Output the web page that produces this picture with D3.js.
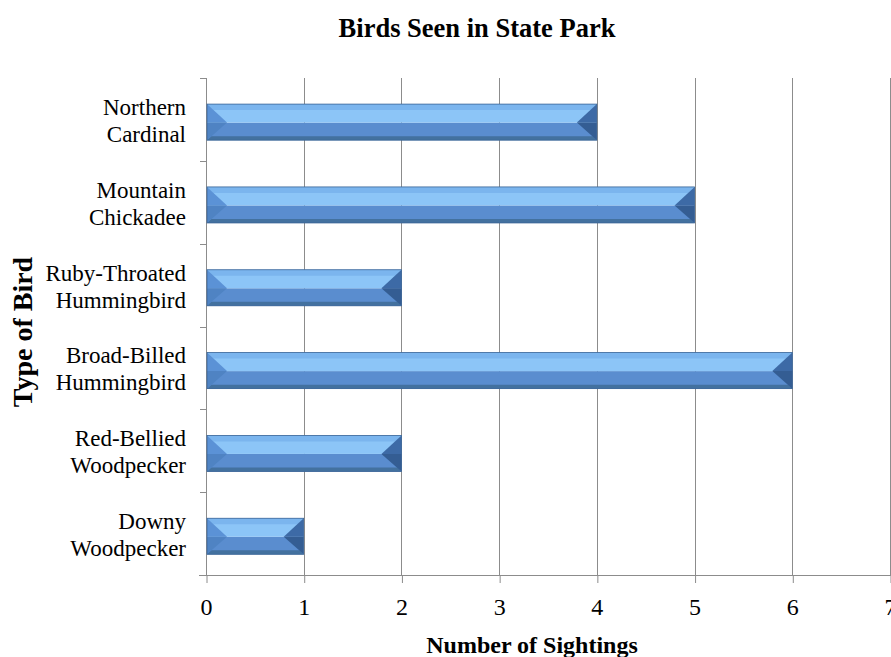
<!DOCTYPE html>
<html><head><meta charset="utf-8">
<script src="https://cdn.jsdelivr.net/npm/d3@7"></script>
<style>body{margin:0;background:#fff}svg{display:block}</style>
</head><body>
<svg id="c" width="891" height="657"></svg>
<script>
const categories = [["Northern","Cardinal"],["Mountain","Chickadee"],["Ruby-Throated","Hummingbird"],["Broad-Billed","Hummingbird"],["Red-Bellied","Woodpecker"],["Downy","Woodpecker"]];
const values = [4,5,2,6,2,1];
const xTicks = [0,1,2,3,4,5,6,7];
const title = "Birds Seen in State Park";
const xTitle = "Number of Sightings";
const yTitle = "Type of Bird";

const FF = "'Liberation Serif','Times New Roman',serif";
const svg = d3.select("#c");
const m = {l:206, r:890, t:78, b:575};
const x = d3.scaleLinear().domain([0,7]).range([m.l, m.r]);
const keys = categories.map(d=>d.join(" "));
const y = d3.scaleBand().domain(keys).range([m.t, m.b]).padding(0);
const band = y.bandwidth();
const barOff = 0.315*band, barH = 0.435*band;

// gridlines
svg.append("g").selectAll("line").data(xTicks.slice(1)).join("line")
  .attr("x1",d=>Math.round(x(d))+0.5).attr("x2",d=>Math.round(x(d))+0.5).attr("y1",m.t).attr("y2",m.b)
  .attr("stroke","#8c8c8c").attr("stroke-width",1);

// x axis
const gx = svg.append("g").attr("transform",`translate(0,${m.b})`)
  .call(d3.axisBottom(x).tickValues(xTicks).tickSize(8).tickPadding(15).tickFormat(d3.format("d")));
gx.select(".domain").remove();
gx.append("line").attr("x1",199).attr("x2",891).attr("y1",0.5).attr("y2",0.5).attr("stroke","#8c8c8c");
gx.selectAll(".tick line").attr("stroke","#8c8c8c").attr("transform","translate(0.5,0)");
gx.selectAll(".tick text").style("font-size","24px").style("font-family",FF).attr("fill","#000");

// y axis
svg.append("line").attr("x1",m.l+0.5).attr("x2",m.l+0.5).attr("y1",m.t).attr("y2",m.b).attr("stroke","#8c8c8c");
svg.append("g").selectAll("line").data(keys.map(k=>y(k)).concat([m.b])).join("line")
  .attr("x1",200).attr("x2",m.l).attr("y1",d=>Math.round(d)+0.5).attr("y2",d=>Math.round(d)+0.5)
  .attr("stroke","#8c8c8c");

// bars with bevel
const poly = pts => pts.map(p=>p.join(",")).join(" ");
svg.append("g").selectAll("g").data(values).join("g").each(function(v,i){
  const gg = d3.select(this);
  const x0 = x(0)+1, x1 = x(v), y0 = y(keys[i])+barOff, y1 = y0+barH;
  const ym = (y0+y1)/2 + 0.5;
  const bw = Math.min(20, (x1-x0)/2 - 2), bh = 6;
  gg.append("rect").attr("x",x0).attr("y",ym).attr("width",x1-x0).attr("height",y1-ym).attr("fill","#5a8dcf");
  gg.append("rect").attr("x",x0).attr("y",y0).attr("width",x1-x0).attr("height",ym-y0).attr("fill","#8cc5f7");
  gg.append("polygon").attr("points",poly([[x0,y0],[x1,y0],[x1-bw*0.3,y0+bh],[x0+bw*0.3,y0+bh]])).attr("fill","#7bb5ee");
  gg.append("polygon").attr("points",poly([[x0,y1],[x1,y1],[x1-bw*0.2,y1-4],[x0+bw*0.2,y1-4]])).attr("fill","#43719f");
  gg.append("polygon").attr("points",poly([[x0,y0],[x0+bw,ym],[x0,ym]])).attr("fill","#5b92d6");
  gg.append("polygon").attr("points",poly([[x0,ym],[x0+bw,ym],[x0,y1]])).attr("fill","#4f83c3");
  gg.append("polygon").attr("points",poly([[x1,y0],[x1-bw,ym],[x1,ym]])).attr("fill","#3d6aa6");
  gg.append("polygon").attr("points",poly([[x1,ym],[x1-bw,ym],[x1,y1]])).attr("fill","#345d93");
  gg.append("rect").attr("x",x0).attr("y",y0).attr("width",x1-x0).attr("height",y1-y0).attr("fill","none").attr("stroke","#3c6597").attr("stroke-width",0.8);
});

// category labels
const lab = svg.append("g").selectAll("text").data(categories).join("text")
  .attr("text-anchor","end").style("font-size","23px").style("font-family",FF).attr("fill","#000")
  .attr("transform",(d,i)=>`translate(186,${y(keys[i])+band/2})`);
lab.append("tspan").attr("x",0).attr("y",-4.5).text(d=>d[0]);
lab.append("tspan").attr("x",0).attr("y",22.5).text(d=>d[1]);

// titles
svg.append("text").attr("x",477).attr("y",37).attr("text-anchor","middle").style("font-family",FF).style("font-size","26.5px").style("font-weight","bold").text(title);
svg.append("text").attr("x",532).attr("y",653).attr("text-anchor","middle").style("font-family",FF).style("font-size","24px").style("font-weight","bold").text(xTitle);
svg.append("text").attr("transform","translate(32,332) rotate(-90)").attr("text-anchor","middle").style("font-family",FF).style("font-size","28px").style("font-weight","bold").text(yTitle);
</script>
</body></html>
